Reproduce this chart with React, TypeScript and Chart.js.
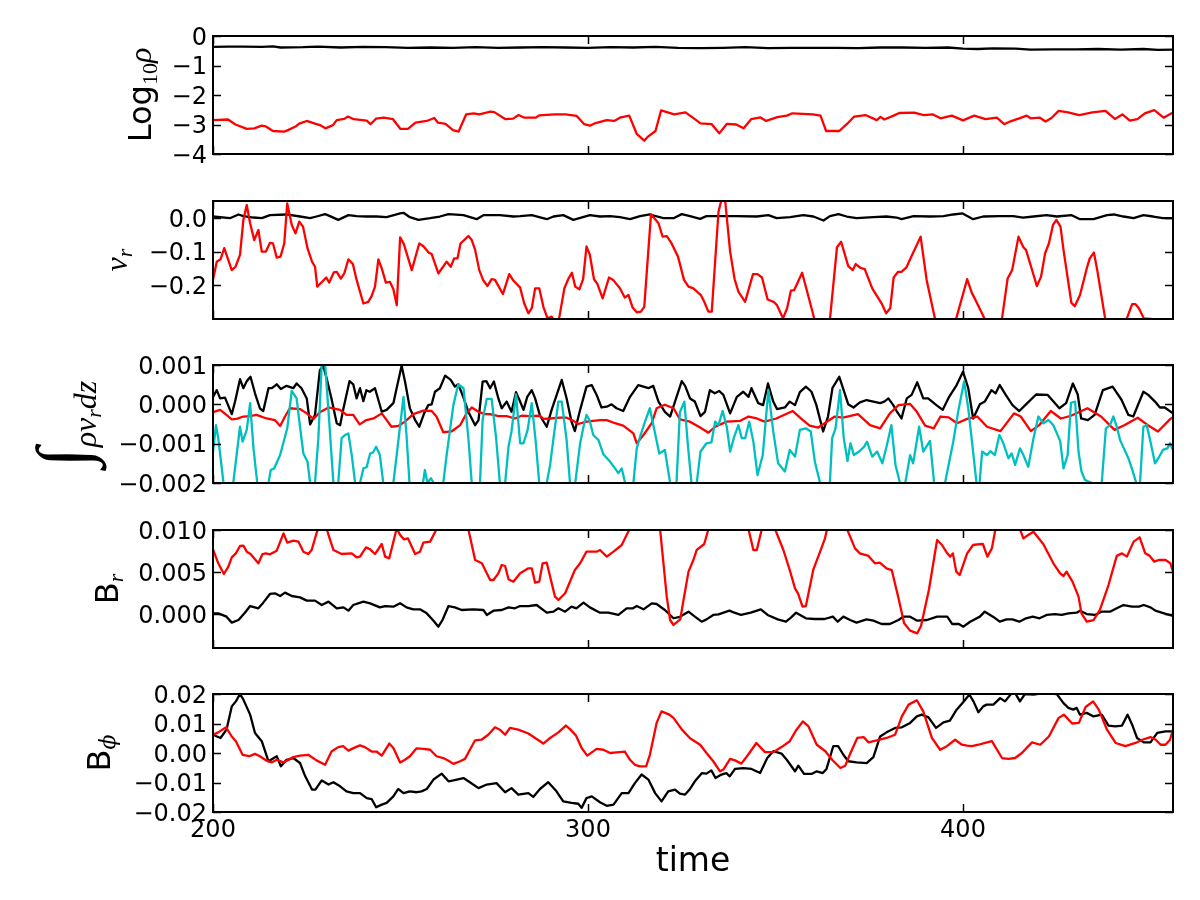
import { useEffect, useRef } from "react";
import { Chart, registerables } from "chart.js";

Chart.register(...registerables);

type Pt = [number, number];

// ---- time axis ----
const timeMin = 200;
const timeMax = 456;
const timeTicks = [200, 300, 400];
const timeTickLabels = ["200", "300", "400"];

// ---- panel 1: Log10 rho ----
const densityBlack: Pt[] = [
  [200, -0.37], [204, -0.36], [208, -0.36], [213, -0.37], [216, -0.35], [218, -0.39], [224, -0.38], [228, -0.36],
  [234, -0.39], [240, -0.37], [246, -0.38], [252, -0.40], [258, -0.39], [264, -0.40], [270, -0.38], [276, -0.40],
  [282, -0.39], [288, -0.38], [294, -0.39], [300, -0.40], [306, -0.38], [312, -0.39], [318, -0.37], [324, -0.40],
  [330, -0.41], [336, -0.40], [342, -0.38], [348, -0.41], [354, -0.40], [360, -0.40], [366, -0.40], [372, -0.41],
  [378, -0.39], [384, -0.39], [390, -0.40], [396, -0.39], [400, -0.43], [404, -0.44], [408, -0.42], [414, -0.43],
  [418, -0.46], [424, -0.45], [430, -0.45], [436, -0.44], [442, -0.46], [448, -0.44], [452, -0.47], [456, -0.46],
];
const densityRed: Pt[] = [
  [200, -2.85], [204, -2.83], [206, -3.0], [209, -3.15], [211, -3.13], [213, -3.04], [214, -3.06], [216, -3.22],
  [219, -3.24], [220, -3.19], [222, -3.07], [223, -2.97], [225, -2.88], [227, -2.96], [228.5, -3.02], [230, -3.13],
  [232, -3.02], [233, -2.85], [235, -2.81], [236, -2.73], [237.5, -2.82], [241, -2.87], [242, -2.99], [243.5, -2.80],
  [245.5, -2.77], [248, -2.82], [250, -3.15], [252, -3.15], [254, -2.94], [257, -2.88], [259, -2.78], [260, -2.94],
  [262, -2.98], [264, -3.19], [265.5, -3.24], [267.5, -2.66], [269.5, -2.62], [271, -2.66], [274, -2.56], [275, -2.58],
  [278, -2.82], [280, -2.80], [281.5, -2.68], [283, -2.77], [286, -2.77], [287, -2.69], [291, -2.66], [294, -2.66],
  [297, -2.71], [299, -2.99], [300.5, -3.04], [302, -2.95], [305, -2.85], [307, -2.88], [308.5, -2.77], [311, -2.70],
  [313, -3.32], [315, -3.55], [316, -3.41], [318, -3.22], [319.5, -2.52], [323, -2.66], [326, -2.59], [328.5, -2.82],
  [330, -2.96], [332, -2.98], [333, -2.99], [335, -3.30], [337, -2.98], [339.5, -3.0], [341.5, -3.13], [343.5, -2.82],
  [346, -2.76], [347.5, -2.88], [350.5, -2.75], [353, -2.70], [354.5, -2.62], [360, -2.66], [362, -2.70], [363.5, -3.22],
  [367, -3.22], [369, -2.99], [371, -2.73], [374, -2.68], [377, -2.85], [378, -2.74], [379, -2.83], [381.5, -2.70],
  [383, -2.61], [387, -2.60], [389.5, -2.68], [392, -2.66], [394, -2.79], [397, -2.70], [400, -2.86], [403, -2.70],
  [406, -2.82], [409, -2.77], [411, -2.99], [412.5, -2.90], [415, -2.79], [417, -2.70], [418, -2.79], [420.5, -2.77],
  [422, -2.90], [423.5, -2.79], [425.5, -2.54], [428, -2.59], [431, -2.68], [434.5, -2.59], [438, -2.54], [440.5, -2.81],
  [442.5, -2.66], [444.5, -2.87], [446.5, -2.82], [448.5, -2.62], [451, -2.51], [453.5, -2.77], [456, -2.59],
];
const densityRange = [-4, 0];
const densityTicks = [-4, -3, -2, -1, 0];
const densityTickLabels = ["\u22124", "\u22123", "\u22122", "\u22121", "0"];

// ---- panel 2: v_r ----
const velocityBlack: Pt[] = [
  [200, 0.004], [204.5, -0.001], [206.8, 0.010], [208.1, 0.005], [210.8, 0.001], [213, -0.001], [215.2, 0.008],
  [219.6, 0.010], [223.2, 0.004], [225.9, -0.001], [227.6, 0.004], [229.9, 0.011], [231.2, 0.005], [233.4, -0.006],
  [236.1, 0.008], [238.3, 0.005], [241, 0.004], [243.6, 0.004], [246.3, 0.002], [249.9, 0.013], [250.8, 0.015],
  [252.5, 0.002], [254.8, -0.006], [257.9, -0.001], [260.5, 0.004], [262.8, 0.011], [266.8, 0.008], [270.3, -0.004],
  [272.1, 0.008], [276.5, 0.008], [280.1, 0.004], [281.9, 0.005], [285, 0.008], [289, -0.004], [290.8, 0.004],
  [293.4, 0.008], [296.1, -0.006], [300.5, 0.008], [303.2, 0.004], [305.9, 0.005], [308.5, 0.002], [311.2, -0.004],
  [313.9, 0.005], [316.5, 0.010], [320.1, -0.001], [322.8, -0.001], [325, 0.011], [327.2, 0.005], [329.9, -0.003],
  [331.6, 0.005], [335.2, 0.005], [339.6, 0.005], [345, 0.004], [348.1, 0.008], [350.3, -0.001], [353.9, 0.002],
  [357.4, 0.008], [360.1, 0.004], [362.8, -0.008], [364.5, 0.005], [366.8, 0.011], [369, 0.004], [371.6, -0.001],
  [376.1, 0.002], [379.6, 0.004], [382.3, 0.001], [383.6, -0.004], [386.8, 0.005], [391.2, 0.004], [394.8, 0.005],
  [397.4, 0.010], [399.9, 0.013], [402.7, -0.004], [405.4, 0.004], [409.8, 0.005], [413.4, 0.005], [416, 0.001],
  [418.8, 0.004], [422.3, 0.008], [425, 0.004], [429, 0.008], [431.2, -0.004], [434.8, -0.004], [438.4, 0.008],
  [440.2, 0.010], [442.8, 0.004], [445.5, -0.001], [448.1, 0.008], [450.7, 0.004], [453.3, -0.001], [456, -0.001],
];
const velocityRed: Pt[] = [
  [200, -0.184], [201, -0.13], [202, -0.123], [203, -0.09], [205, -0.155], [206, -0.145], [207.2, -0.11], [208.1, -0.006],
  [209, 0.038], [209.9, -0.016], [211, -0.066], [212.1, -0.036], [213, -0.10], [214.1, -0.10], [215.2, -0.074],
  [216, -0.076], [217, -0.118], [218, -0.115], [219, -0.076], [219.8, 0.043], [221, -0.021], [222, -0.046], [223, -0.011],
  [224, -0.026], [225.2, -0.09], [226.4, -0.13], [227.2, -0.145], [227.8, -0.204], [228.7, -0.194], [230.2, -0.177],
  [231, -0.192], [232.2, -0.162], [233, -0.16], [234.1, -0.18], [235, -0.165], [236.1, -0.123], [237.3, -0.137],
  [238.3, -0.184], [240.1, -0.254], [241.4, -0.249], [242.3, -0.232], [243.2, -0.204], [244.1, -0.123], [245, -0.15],
  [246.1, -0.192], [247.2, -0.19], [248.1, -0.212], [249, -0.259], [249.9, -0.058], [250.9, -0.078], [253, -0.155],
  [255, -0.076], [256.1, -0.084], [257.5, -0.103], [258.3, -0.107], [260.1, -0.165], [262.3, -0.13], [263.4, -0.145],
  [264.3, -0.12], [265.2, -0.12], [266, -0.076], [268.1, -0.054], [269, -0.066], [269.9, -0.095], [271, -0.155],
  [272.1, -0.186], [273.2, -0.202], [274.3, -0.182], [275.2, -0.184], [277.3, -0.226], [279, -0.167], [280.1, -0.186],
  [281.9, -0.207], [283, -0.254], [284.1, -0.283], [285, -0.268], [285.9, -0.209], [287, -0.209], [288.1, -0.264],
  [289.2, -0.298], [290.3, -0.293], [291.2, -0.31], [292.3, -0.298], [293.7, -0.209], [294.8, -0.18], [295.7, -0.163],
  [296.6, -0.204], [297.7, -0.212], [298.7, -0.182], [299.6, -0.085], [300.5, -0.11], [301.6, -0.182], [302.5, -0.196],
  [303.9, -0.239], [305.6, -0.177], [306.7, -0.184], [308.5, -0.209], [309.8, -0.236], [310.8, -0.229], [311.9, -0.266],
  [313, -0.28], [314.1, -0.278], [315, -0.264], [316.8, 0.011], [318.8, -0.016], [319.9, -0.056], [321, -0.054],
  [322.2, -0.074], [324, -0.115], [325.6, -0.184], [326.8, -0.204], [328.1, -0.209], [330.1, -0.229], [331, -0.249],
  [332.1, -0.278], [333, -0.278], [334.8, 0.018], [335.7, 0.058], [336.6, 0.048], [337.9, -0.10], [339.1, -0.182],
  [340.1, -0.219], [341.9, -0.249], [344, -0.167], [345.2, -0.167], [346.4, -0.177], [347.9, -0.242], [349.5, -0.249],
  [350.4, -0.259], [352, -0.298], [353.1, -0.268], [354.1, -0.216], [355, -0.214], [357.1, -0.163], [358.8, -0.234],
  [360.6, -0.31], [362.5, -0.34], [364.5, -0.303], [366.4, -0.087], [367.5, -0.071], [369.4, -0.143], [370.6, -0.155],
  [371.4, -0.137], [372.6, -0.148], [373.8, -0.152], [375.8, -0.209], [378.4, -0.256], [379.5, -0.283], [380.6, -0.268],
  [381.5, -0.177], [382.7, -0.16], [383.6, -0.16], [384.9, -0.147], [386.3, -0.113], [388.7, -0.056], [390.3, -0.184],
  [392.5, -0.298], [395, -0.34], [398.2, -0.298], [401.1, -0.182], [402.4, -0.224], [403, -0.236], [405.7, -0.298],
  [408, -0.33], [410.4, -0.298], [411.9, -0.18], [413.1, -0.155], [414.8, -0.056], [416.1, -0.087], [416.8, -0.095],
  [419.7, -0.202], [420.8, -0.175], [421.9, -0.105], [422.9, -0.076], [424, -0.021], [424.9, -0.006], [426, -0.026],
  [426.8, -0.095], [428.9, -0.252], [429.8, -0.262], [431.2, -0.229], [433, -0.15], [433.8, -0.12], [434.9, -0.103],
  [435.8, -0.155], [437.9, -0.298], [441, -0.33], [443.7, -0.298], [445.1, -0.256], [446, -0.256], [446.9, -0.268],
  [448.2, -0.298], [450, -0.30], [453, -0.305], [456, -0.30],
];
const velocityRange = [-0.3, 0.05];
const velocityTicks = [-0.2, -0.1, 0.0];
const velocityTickLabels = ["\u22120.2", "\u22120.1", "0.0"];

// ---- panel 3: integrated mass flux ----
const fluxBlack: Pt[] = [
  [200, 0.19e-3], [201, 0.36e-3], [201.9, 0.15e-3], [203.2, 0.17e-3], [205, -0.25e-3], [205.9, 0.08e-3], [207.2, 0.64e-3],
  [208.1, 0.41e-3], [209, 0.59e-3], [210, 0.70e-3], [211.2, 0.28e-3], [212.5, -0.10e-3], [213.4, -0.17e-3], [214.8, 0.41e-3],
  [215.7, 0.41e-3], [217, 0.51e-3], [218.1, 0.39e-3], [219.6, 0.47e-3], [221.4, 0.41e-3], [222.3, 0.53e-3], [223.6, 0.41e-3],
  [225, 0.15e-3], [225.9, -0.51e-3], [227.2, -0.27e-3], [228.5, 0.87e-3], [229.4, 0.98e-3], [230.3, 0.66e-3], [231.6, 0.14e-3],
  [233, -0.48e-3], [233.9, -0.53e-3], [234.8, -0.10e-3], [236.4, 0.59e-3], [237.4, 0.51e-3], [238.3, 0.15e-3], [239.2, 0.41e-3],
  [240.1, 0.08e-3], [240.9, 0.36e-3], [241.8, 0.32e-3], [243.2, 0.41e-3], [245, -0.19e-3], [246.3, -0.14e-3], [248.1, 0.03e-3],
  [249, 0.42e-3], [250.3, 0.98e-3], [251.2, 0.58e-3], [252.5, -0.10e-3], [253.9, -0.40e-3], [255, -0.57e-3], [256.3, -0.23e-3],
  [257.4, -0.02e-3], [258.3, 0.0], [259.2, 0.32e-3], [260.5, 0.41e-3], [261.9, 0.73e-3], [263.4, 0.62e-3], [264.5, 0.45e-3],
  [265.4, 0.51e-3], [266.8, 0.17e-3], [268.1, -0.19e-3], [269.9, -0.53e-3], [270.8, -0.40e-3], [271.9, 0.58e-3],
  [272.9, 0.59e-3], [273.9, 0.41e-3], [274.9, 0.58e-3], [276.1, 0.15e-3], [277, -0.10e-3], [278.3, 0.07e-3], [279.6, -0.19e-3],
  [280.8, 0.31e-3], [281.9, 0.07e-3], [282.8, -0.14e-3], [283.8, 0.19e-3], [285, 0.36e-3], [285.9, 0.15e-3], [287.2, -0.29e-3],
  [289, -0.57e-3], [290.3, -0.14e-3], [293, 0.62e-3], [294.3, 0.15e-3], [295.6, -0.44e-3], [296.5, -0.68e-3], [297.9, -0.14e-3],
  [299.6, 0.45e-3], [301, 0.49e-3], [302.3, 0.24e-3], [303.6, -0.08e-3], [305, -0.06e-3], [306.3, 0.0], [307.6, -0.10e-3],
  [309.4, -0.17e-3], [311.2, 0.19e-3], [313.4, 0.49e-3], [314.8, 0.45e-3], [316.1, 0.41e-3], [317.4, 0.47e-3], [318.8, 0.07e-3],
  [320.5, -0.19e-3], [321.9, -0.31e-3], [323.2, 0.07e-3], [325, 0.59e-3], [325.9, 0.47e-3], [327.2, 0.15e-3], [328.5, 0.07e-3],
  [330, -0.30e-3], [331.2, -0.19e-3], [332.5, 0.36e-3], [333.8, 0.28e-3], [335, 0.34e-3], [336.1, 0.24e-3], [337.9, -0.23e-3],
  [339.7, 0.19e-3], [341.4, 0.32e-3], [342.8, 0.19e-3], [343.6, 0.41e-3], [345.4, 0.03e-3], [346.7, -0.02e-3], [348, 0.53e-3],
  [349.4, 0.07e-3], [350.4, -0.12e-3], [352.5, -0.08e-3], [353.8, 0.07e-3], [355.2, -0.02e-3], [356.5, 0.31e-3],
  [358.1, 0.45e-3], [359.6, 0.32e-3], [360.9, -0.02e-3], [362.7, -0.69e-3], [364, -0.31e-3], [365.2, 0.42e-3], [367, 0.70e-3],
  [368, 0.41e-3], [369.4, 0.0], [370.8, -0.08e-3], [372.5, 0.05e-3], [374.3, 0.11e-3], [376.1, 0.07e-3], [377.9, 0.03e-3],
  [379, 0.07e-3], [380.1, 0.15e-3], [381.4, -0.02e-3], [382.3, -0.17e-3], [383.6, -0.36e-3], [385, 0.15e-3], [386.3, 0.24e-3],
  [387.8, 0.56e-3], [389.4, 0.15e-3], [390.7, 0.15e-3], [392.9, -0.02e-3], [394.6, -0.14e-3], [396.3, 0.19e-3],
  [398.3, 0.49e-3], [400, 0.83e-3], [401.4, 0.41e-3], [402.7, -0.36e-3], [404.5, 0.0], [405.8, 0.07e-3], [407.6, 0.36e-3],
  [408.7, 0.28e-3], [409.8, 0.49e-3], [411.4, 0.24e-3], [413.2, -0.02e-3], [415, -0.17e-3], [416.8, 0.0], [419.5, 0.25e-3],
  [422.6, 0.24e-3], [425.7, -0.10e-3], [427.5, 0.03e-3], [429.3, 0.53e-3], [430.6, 0.25e-3], [431.5, -0.36e-3],
  [433.3, -0.40e-3], [435.1, -0.27e-3], [437.3, 0.36e-3], [439.9, 0.45e-3], [442.3, 0.11e-3], [444.1, -0.27e-3],
  [445.4, -0.31e-3], [448.1, 0.32e-3], [449.4, 0.24e-3], [451.2, 0.07e-3], [452.5, -0.08e-3], [453.8, -0.08e-3], [456, -0.23e-3],
];
const fluxRed: Pt[] = [
  [200, -0.20e-3], [201.9, -0.14e-3], [203.6, -0.27e-3], [205, -0.38e-3], [206.3, -0.37e-3], [208.1, -0.31e-3],
  [209.9, -0.30e-3], [211.6, -0.27e-3], [214.3, -0.36e-3], [216.5, -0.40e-3], [217.9, -0.55e-3], [219.2, -0.31e-3],
  [220.5, -0.10e-3], [223.2, -0.12e-3], [225, -0.23e-3], [226.8, -0.37e-3], [228.5, -0.20e-3], [230.8, -0.08e-3],
  [233.9, -0.14e-3], [235.6, -0.27e-3], [237.4, -0.27e-3], [239.1, -0.51e-3], [240.9, -0.40e-3], [242.8, -0.36e-3],
  [245, -0.23e-3], [247.6, -0.57e-3], [249.4, -0.55e-3], [251.2, -0.44e-3], [253.4, -0.25e-3], [256.1, -0.16e-3],
  [258.3, -0.17e-3], [259.6, -0.31e-3], [261.4, -0.71e-3], [263.6, -0.69e-3], [265.9, -0.53e-3], [267.6, -0.23e-3],
  [269, -0.08e-3], [270.8, -0.19e-3], [272.5, -0.25e-3], [273.9, -0.25e-3], [276.1, -0.30e-3], [278.3, -0.30e-3],
  [280.5, -0.36e-3], [282.3, -0.29e-3], [284.5, -0.30e-3], [287.2, -0.29e-3], [288.1, -0.37e-3], [289.9, -0.36e-3],
  [292.5, -0.34e-3], [294.3, -0.34e-3], [296.1, -0.42e-3], [297.4, -0.50e-3], [299.6, -0.44e-3], [301.4, -0.42e-3],
  [303.2, -0.40e-3], [305, -0.40e-3], [307.2, -0.48e-3], [309.4, -0.54e-3], [312.1, -0.74e-3], [313, -0.99e-3],
  [314.8, -0.78e-3], [317, -0.48e-3], [318.3, -0.10e-3], [320.5, -0.01e-3], [322.8, -0.10e-3], [324.5, -0.38e-3],
  [327.2, -0.44e-3], [329.9, -0.59e-3], [332.1, -0.72e-3], [333.9, -0.57e-3], [337, -0.44e-3], [340.6, -0.42e-3],
  [342.8, -0.31e-3], [345, -0.36e-3], [347.1, -0.44e-3], [350.2, -0.36e-3], [354.6, -0.17e-3], [357.3, -0.40e-3],
  [359.1, -0.54e-3], [361.4, -0.59e-3], [363.1, -0.48e-3], [365.8, -0.31e-3], [368, -0.34e-3], [372, -0.25e-3],
  [375.2, -0.53e-3], [377.9, -0.61e-3], [380.5, -0.23e-3], [382.8, -0.02e-3], [385.9, 0.01e-3], [387.7, -0.19e-3],
  [389.9, -0.54e-3], [392.2, -0.61e-3], [394, -0.31e-3], [396.2, -0.33e-3], [398.4, -0.48e-3], [401.1, -0.37e-3],
  [403.8, -0.31e-3], [406.4, -0.57e-3], [410, -0.68e-3], [413.6, -0.23e-3], [415.4, -0.31e-3], [418.1, -0.68e-3],
  [420.3, -0.53e-3], [423.4, -0.17e-3], [426.1, -0.36e-3], [428.8, -0.29e-3], [433.2, -0.10e-3], [436.8, -0.31e-3],
  [440.4, -0.65e-3], [443, -0.53e-3], [446.6, -0.34e-3], [449.3, -0.53e-3], [452, -0.69e-3], [455.3, -0.37e-3], [456, -0.33e-3],
];
const fluxCyan: Pt[] = [
  [200, -1.20e-3], [200.8, -0.53e-3], [201.4, -0.86e-3], [202.8, -2.0e-3], [204, -2.4e-3], [205.4, -2.0e-3], [207.2, -0.57e-3],
  [207.9, -0.95e-3], [209, -0.65e-3], [209.9, 0.03e-3], [210.8, -1.12e-3], [211.8, -2.0e-3], [213.3, -2.4e-3], [214.8, -2.0e-3],
  [215.4, -1.67e-3], [216.3, -1.63e-3], [217.9, -1.29e-3], [219.8, -0.61e-3], [221, 0.34e-3], [222.3, 0.15e-3],
  [223.2, -0.57e-3], [224.1, -1.25e-3], [225.2, -1.46e-3], [225.9, -2.0e-3], [226.5, -2.2e-3], [227.2, -2.0e-3],
  [228.1, -0.86e-3], [229, 1.05e-3], [229.9, 1.02e-3], [231, -0.44e-3], [232.1, -2.0e-3], [232.8, -2.3e-3], [233.4, -2.0e-3],
  [234.3, -0.86e-3], [235.2, -0.78e-3], [236.1, -0.74e-3], [237, -1.29e-3], [237.9, -2.0e-3], [238.5, -2.3e-3],
  [239.2, -2.0e-3], [240.1, -1.63e-3], [241, -1.59e-3], [241.9, -1.25e-3], [242.7, -1.22e-3], [243.5, -1.08e-3],
  [244.5, -1.29e-3], [245.4, -2.0e-3], [246.7, -2.4e-3], [248.1, -2.0e-3], [249.4, -0.95e-3], [250.8, 0.19e-3],
  [251.6, -0.78e-3], [252.4, -2.0e-3], [254.3, -2.5e-3], [256, -2.0e-3], [256.5, -1.67e-3], [257.2, -2.0e-3],
  [258.1, -1.88e-3], [258.9, -2.0e-3], [260, -2.4e-3], [261.4, -2.0e-3], [262.3, -1.29e-3], [264.1, -0.02e-3],
  [265.4, 0.51e-3], [266.8, 0.41e-3], [268.1, -0.86e-3], [269, -2.0e-3], [270.1, -2.4e-3], [271.2, -2.0e-3],
  [271.9, -0.40e-3], [273, 0.14e-3], [274.3, 0.14e-3], [275.5, -0.86e-3], [276.5, -2.0e-3], [277.2, -2.3e-3],
  [277.9, -2.0e-3], [278.8, -1.08e-3], [279.6, -0.69e-3], [280.8, 0.25e-3], [281.9, -0.99e-3], [282.8, -0.99e-3],
  [283.9, -0.65e-3], [285, 0.03e-3], [286.1, -0.99e-3], [287, -2.0e-3], [288, -2.4e-3], [289, -2.0e-3], [289.9, -1.54e-3],
  [290.8, -0.86e-3], [292.1, 0.07e-3], [293, 0.07e-3], [294.3, -0.91e-3], [295.2, -2.0e-3], [295.9, -2.3e-3],
  [296.6, -2.0e-3], [297.9, -0.99e-3], [298.8, -0.57e-3], [299.6, -0.27e-3], [300.4, -0.40e-3], [301.4, -0.78e-3],
  [302.8, -0.91e-3], [304.1, -1.27e-3], [305.9, -1.46e-3], [307.2, -1.63e-3], [308.1, -1.75e-3], [309, -1.63e-3],
  [309.9, -2.0e-3], [311, -2.4e-3], [312.1, -2.0e-3], [313, -1.12e-3], [313.9, -0.82e-3], [315.2, -0.44e-3],
  [316.5, -0.10e-3], [317.6, -0.61e-3], [319, -1.25e-3], [320.5, -1.16e-3], [321.9, -2.0e-3], [322.8, -2.4e-3],
  [323.6, -2.0e-3], [324.5, -0.20e-3], [325.7, 0.07e-3], [326.6, -1.0e-3], [327.6, -2.0e-3], [328.3, -2.2e-3],
  [329, -2.0e-3], [330, -1.2e-3], [331.6, -0.99e-3], [332.9, -0.97e-3], [333.9, -0.44e-3], [334.8, -0.53e-3],
  [335.9, -0.17e-3], [337, -0.57e-3], [337.9, -1.20e-3], [339, -0.82e-3], [340.1, -0.53e-3], [341, -0.86e-3],
  [341.9, -0.86e-3], [343, -0.44e-3], [344.1, -0.95e-3], [345.2, -1.80e-3], [346.6, -1.29e-3], [348.1, 0.36e-3],
  [349.4, -0.69e-3], [350.7, -1.50e-3], [352.5, -1.71e-3], [353.8, -1.16e-3], [355.2, -1.33e-3], [356.5, -0.65e-3],
  [358.1, -0.61e-3], [359.4, -0.69e-3], [360.5, -1.46e-3], [361.9, -2.0e-3], [363.2, -2.4e-3], [364.5, -2.0e-3],
  [365.1, -0.86e-3], [366, -0.61e-3], [367.2, 0.36e-3], [368.2, -0.86e-3], [369.2, -1.44e-3], [370, -0.99e-3],
  [370.9, -1.29e-3], [372.3, -1.20e-3], [373.6, -1.08e-3], [374.4, -0.95e-3], [375.8, -1.33e-3], [377.1, -1.20e-3],
  [378.5, -1.50e-3], [379.6, -1.08e-3], [380.9, -0.53e-3], [382, -1.54e-3], [383.2, -2.0e-3], [384, -2.2e-3],
  [384.6, -2.0e-3], [385.9, -1.29e-3], [386.7, -1.50e-3], [388.3, -0.57e-3], [389.4, -1.20e-3], [391.2, -0.93e-3],
  [392.3, -2.0e-3], [393.8, -2.5e-3], [395.2, -2.0e-3], [397.4, -0.95e-3], [398.8, -0.14e-3], [400.3, 0.58e-3],
  [401.4, -0.10e-3], [402.4, -0.95e-3], [403.6, -2.0e-3], [404.3, -2.15e-3], [405.1, -1.20e-3], [406.4, -1.29e-3],
  [407.3, -1.19e-3], [408.5, -1.29e-3], [409.7, -0.78e-3], [410.6, -0.95e-3], [412.1, -1.37e-3], [413, -1.25e-3],
  [413.9, -1.54e-3], [415.2, -1.12e-3], [416.1, -1.29e-3], [417.4, -1.59e-3], [418.8, -0.86e-3], [420.1, -0.31e-3],
  [421.4, -0.48e-3], [422.8, -0.40e-3], [424.1, -0.53e-3], [425.9, -0.93e-3], [426.8, -1.63e-3], [427.9, -1.29e-3],
  [428.8, 0.04e-3], [429.9, 0.07e-3], [430.8, -1.20e-3], [431.6, -1.71e-3], [432.5, -1.92e-3], [434.3, -2.0e-3],
  [435.7, -2.3e-3], [437, -2.0e-3], [438.1, -0.61e-3], [439.2, -0.53e-3], [440.1, -0.31e-3], [441, -0.57e-3],
  [441.9, -0.91e-3], [444.1, -1.37e-3], [445.3, -1.71e-3], [446.2, -2.0e-3], [446.7, -2.1e-3], [447.2, -2.0e-3],
  [448.1, -0.57e-3], [449, -0.53e-3], [449.9, -0.91e-3], [451.2, -1.50e-3], [452.1, -1.37e-3], [453.3, -1.16e-3],
  [454.5, -1.12e-3], [455.2, -0.99e-3], [456, -1.16e-3],
];
const fluxRange = [-0.002, 0.001];
const fluxTicks = [-0.002, -0.001, 0, 0.001];
const fluxTickLabels = ["\u22120.002", "\u22120.001", "0.000", "0.001"];

// ---- panel 4: B_r ----
const bRadialBlack: Pt[] = [
  [200, 0.11e-3], [201.4, 0.11e-3], [203.6, -0.28e-3], [205, -0.99e-3], [206.8, -0.68e-3], [208.5, 0.19e-3], [209.9, 0.98e-3],
  [212.1, 0.71e-3], [213.4, 1.38e-3], [215.2, 2.41e-3], [216.5, 2.49e-3], [217.9, 2.17e-3], [219.2, 2.57e-3], [221, 2.17e-3],
  [223.2, 2.01e-3], [225, 1.62e-3], [227.2, 1.62e-3], [229, 1.10e-3], [230.8, 1.50e-3], [233, 0.71e-3], [234.8, 0.82e-3],
  [236.1, 0.43e-3], [237.4, 1.10e-3], [240.1, 1.50e-3], [241.9, 1.30e-3], [244.5, 0.82e-3], [245.9, 0.98e-3],
  [248.1, 0.90e-3], [249.9, 1.30e-3], [251.6, 0.82e-3], [253.4, 0.59e-3], [255.2, 0.59e-3], [257, 0.11e-3], [258.8, -0.76e-3],
  [260.1, -1.47e-3], [261.2, -0.68e-3], [262.8, 0.98e-3], [264.5, 0.82e-3], [266.3, 0.51e-3], [269.4, 0.59e-3],
  [272.1, 0.51e-3], [273, -0.08e-3], [274.8, 0.43e-3], [277, 0.51e-3], [278.8, 0.82e-3], [280.5, 0.71e-3], [281.9, 0.98e-3],
  [284.1, 0.98e-3], [286.3, 1.10e-3], [289, 0.19e-3], [290.8, 0.31e-3], [292.1, 0.71e-3], [293.9, 0.31e-3], [295.6, 0.90e-3],
  [296.9, 0.71e-3], [298.8, 1.38e-3], [300.5, 0.82e-3], [303.2, 0.19e-3], [305.4, 0.19e-3], [308.1, -0.08e-3],
  [310.3, 0.71e-3], [312, 0.71e-3], [313, 0.98e-3], [314.8, 0.59e-3], [317, 1.30e-3], [318.3, 1.22e-3], [320.5, 0.51e-3],
  [322.8, -0.47e-3], [324.5, -0.30e-3], [326.8, 0.31e-3], [328.5, -0.28e-3], [330.3, -0.88e-3], [331.6, -0.60e-3],
  [333.4, -0.08e-3], [334.8, 0.0], [337.7, 0.43e-3], [339, 0.19e-3], [340.8, -0.08e-3], [343.4, 0.19e-3], [346.1, 0.59e-3],
  [347.9, -0.08e-3], [350.6, -0.60e-3], [352.8, -0.88e-3], [354.1, -0.40e-3], [355.5, 0.19e-3], [358.1, -0.48e-3],
  [360.4, -0.56e-3], [363.1, -0.56e-3], [365.3, -0.28e-3], [366.6, -0.88e-3], [368.1, -0.28e-3], [369.9, -0.68e-3],
  [371.6, -0.99e-3], [374.3, -0.60e-3], [376.1, -0.76e-3], [378.3, -1.15e-3], [380.5, -1.15e-3], [382.8, -0.68e-3],
  [384.1, -0.28e-3], [385.9, -0.28e-3], [387.8, -0.76e-3], [390.4, -0.68e-3], [393.1, -0.28e-3], [395.8, -0.28e-3],
  [397.1, -1.15e-3], [398.9, -1.15e-3], [400.1, -1.47e-3], [401.9, -0.88e-3], [404.5, -0.28e-3], [405.8, 0.31e-3],
  [408, -0.28e-3], [409.8, -0.88e-3], [411.6, -0.60e-3], [413.2, -0.60e-3], [415, -0.88e-3], [416.8, -0.48e-3],
  [418.6, -0.28e-3], [420.4, -0.48e-3], [422.3, -0.08e-3], [424.5, 0.03e-3], [426.3, -0.08e-3], [428.1, 0.11e-3],
  [430.3, 0.19e-3], [431.2, 0.43e-3], [433, 0.03e-3], [435.2, -0.08e-3], [436.9, 0.31e-3], [439.2, 0.31e-3], [441, 0.71e-3],
  [442.8, 1.10e-3], [445.1, 0.90e-3], [446.9, 0.90e-3], [448.2, 1.10e-3], [450, 0.82e-3], [451.3, 0.43e-3], [453.6, 0.11e-3],
  [456, -0.20e-3],
];
const bRadialRed: Pt[] = [
  [200, 7.71e-3], [201.4, 6.05e-3], [202.9, 4.78e-3], [204.1, 5.65e-3], [205, 6.76e-3], [206.1, 7.23e-3], [207.2, 8.10e-3],
  [208.1, 8.14e-3], [209, 7.43e-3], [210, 7.15e-3], [212.1, 6.05e-3], [213.2, 7.15e-3], [214.1, 7.23e-3], [215.2, 7.11e-3],
  [217, 7.55e-3], [218.8, 9.60e-3], [219.8, 8.50e-3], [221.4, 8.73e-3], [222.8, 8.62e-3], [224.1, 7.43e-3], [225.4, 7.15e-3],
  [226.3, 7.63e-3], [227.6, 9.60e-3], [228.5, 10.8e-3], [229.9, 10.8e-3], [230.8, 9.41e-3], [232.1, 7.63e-3],
  [234.3, 7.15e-3], [237, 7.23e-3], [238.3, 6.76e-3], [239.2, 6.84e-3], [240.8, 7.94e-3], [241.9, 7.71e-3], [243.2, 7.15e-3],
  [245, 8.34e-3], [245.9, 6.84e-3], [247, 6.64e-3], [249, 10.2e-3], [249.9, 9.41e-3], [250.9, 8.89e-3], [252, 9.0e-3],
  [253.9, 7.15e-3], [255.2, 7.43e-3], [256.1, 8.50e-3], [257.9, 8.62e-3], [259.6, 10.08e-3], [264, 11.5e-3],
  [268.1, 10.08e-3], [269.9, 6.44e-3], [271.7, 6.05e-3], [273.9, 4.07e-3], [274.8, 4.07e-3], [276.1, 4.86e-3],
  [277, 5.85e-3], [277.9, 5.73e-3], [278.8, 4.15e-3], [280.1, 3.87e-3], [281.9, 4.86e-3], [284.1, 5.45e-3], [285, 5.45e-3],
  [285.9, 3.75e-3], [287, 3.87e-3], [287.9, 6.05e-3], [289, 6.12e-3], [291.2, 2.09e-3], [292.1, 1.69e-3], [293.9, 2.49e-3],
  [296.5, 5.25e-3], [297.9, 6.05e-3], [299.6, 7.43e-3], [302.3, 7.43e-3], [303.2, 7.63e-3], [305, 6.84e-3], [306.8, 7.43e-3],
  [309, 8.22e-3], [310.3, 9.41e-3], [311.2, 10.2e-3], [315, 11.5e-3], [319.2, 10.2e-3], [321, 2.09e-3], [321.9, -0.68e-3],
  [322.8, -1.27e-3], [324.6, -0.60e-3], [325.4, 1.50e-3], [326.8, 5.06e-3], [328.1, 6.44e-3], [329, 7.63e-3],
  [331, 8.34e-3], [332.1, 10.08e-3], [337, 11.5e-3], [342.8, 10.08e-3], [344.1, 7.63e-3], [345, 7.63e-3], [346.3, 10.0e-3],
  [348, 10.8e-3], [349.9, 10.08e-3], [352.1, 7.63e-3], [353.8, 5.25e-3], [355.2, 3.08e-3], [356, 2.49e-3], [357.2, 0.90e-3],
  [358.1, 0.98e-3], [360.1, 5.33e-3], [361.9, 7.43e-3], [363.2, 9.01e-3], [363.7, 10.0e-3], [366, 11.3e-3],
  [369.1, 10.08e-3], [371.2, 7.82e-3], [372.5, 7.23e-3], [374.8, 6.93e-3], [376.5, 6.05e-3], [377.8, 6.12e-3],
  [379.6, 5.45e-3], [381, 5.25e-3], [382.8, 1.89e-3], [384.3, -1.07e-3], [385.9, -1.94e-3], [387.8, -2.26e-3],
  [388.8, -1.39e-3], [390.9, 2.88e-3], [393.1, 8.81e-3], [394.4, 8.22e-3], [395.8, 7.23e-3], [396.6, 6.84e-3],
  [397.3, 7.23e-3], [398.2, 5.06e-3], [399.1, 4.66e-3], [401.1, 7.23e-3], [402.7, 8.22e-3], [403.8, 8.30e-3],
  [405.3, 8.34e-3], [406.5, 6.84e-3], [407.7, 7.82e-3], [408.6, 10.0e-3], [412, 11.2e-3], [415.2, 10.08e-3],
  [416.1, 9.01e-3], [417.4, 9.41e-3], [418.8, 9.80e-3], [421.4, 8.34e-3], [424.1, 6.05e-3], [425.9, 4.86e-3],
  [426.8, 4.54e-3], [427.6, 5.06e-3], [429.2, 3.87e-3], [430.8, 2.09e-3], [431.6, 0.11e-3], [433, -0.88e-3],
  [434.8, -0.68e-3], [436.5, 0.51e-3], [438.8, 3.47e-3], [441, 6.93e-3], [442.4, 7.23e-3], [443.7, 6.84e-3],
  [445.5, 8.62e-3], [447.1, 9.13e-3], [448.6, 7.23e-3], [449.8, 6.93e-3], [451, 6.24e-3], [452.2, 6.44e-3], [454, 6.44e-3],
  [455.3, 6.05e-3], [456, 5.06e-3],
];
const bRadialRange = [-0.004, 0.010];
const bRadialTicks = [0, 0.005, 0.010];
const bRadialTickLabels = ["0.000", "0.005", "0.010"];

// ---- panel 5: B_phi ----
const bAzimuthalBlack: Pt[] = [
  [200, 0.62e-2], [202, 0.51e-2], [203.6, 0.79e-2], [205, 1.58e-2], [206.1, 1.75e-2], [207.2, 2.0e-2], [208.1, 1.81e-2],
  [209.9, 1.30e-2], [211.2, 0.68e-2], [213, 0.40e-2], [214.8, -0.28e-2], [217, -0.11e-2], [218.1, -0.45e-2],
  [219.6, -0.23e-2], [221.4, -0.17e-2], [223.2, -0.34e-2], [224.6, -0.79e-2], [226.4, -1.24e-2], [227.3, -1.24e-2],
  [229, -0.93e-2], [230.8, -1.07e-2], [232.1, -0.99e-2], [233.9, -1.13e-2], [235.6, -1.30e-2], [237.4, -1.36e-2],
  [239.2, -1.36e-2], [241, -1.53e-2], [242.3, -1.56e-2], [243.5, -1.84e-2], [245, -1.75e-2], [246.3, -1.69e-2],
  [248.1, -1.47e-2], [249.4, -1.22e-2], [250.8, -1.36e-2], [252.5, -1.30e-2], [254.3, -1.33e-2], [255.6, -1.30e-2],
  [257, -1.22e-2], [258.8, -0.90e-2], [261, -0.70e-2], [262.8, -0.96e-2], [264.1, -0.93e-2], [266.8, -0.85e-2],
  [268.5, -0.99e-2], [270.8, -1.19e-2], [273, -1.07e-2], [275.6, -1.02e-2], [277.9, -1.33e-2], [279.6, -1.19e-2],
  [281.4, -1.41e-2], [284.1, -1.36e-2], [285.4, -1.49e-2], [287.2, -1.22e-2], [289.4, -0.99e-2], [291.6, -1.30e-2],
  [293.4, -1.64e-2], [295.6, -1.69e-2], [297.4, -1.72e-2], [298.3, -1.86e-2], [299.6, -1.53e-2], [301, -1.47e-2],
  [303.2, -1.67e-2], [305, -1.79e-2], [306.8, -1.75e-2], [309, -1.36e-2], [310.8, -1.36e-2], [312.5, -1.02e-2],
  [314.3, -0.73e-2], [316.1, -0.90e-2], [317.9, -1.36e-2], [319.6, -1.64e-2], [321.4, -1.30e-2], [323.2, -1.24e-2],
  [324.5, -1.38e-2], [325.9, -1.41e-2], [327.2, -1.22e-2], [328.5, -0.96e-2], [330.4, -0.68e-2], [331.6, -0.70e-2],
  [332.9, -0.59e-2], [334, -0.85e-2], [335.6, -0.73e-2], [336.9, -0.68e-2], [337.8, -0.79e-2], [339.2, -0.54e-2],
  [341.4, -0.51e-2], [343.6, -0.54e-2], [345.9, -0.68e-2], [347.8, -0.17e-2], [349.4, 0.06e-2], [351.6, -0.02e-2],
  [353, -0.23e-2], [355.2, -0.62e-2], [356.1, -0.43e-2], [357.6, -0.71e-2], [359.6, -0.71e-2], [361, -0.62e-2],
  [362.6, -0.68e-2], [363.6, -0.54e-2], [365.4, 0.23e-2], [366.7, 0.23e-2], [368.1, -0.06e-2], [369.4, -0.28e-2],
  [371.6, -0.32e-2], [374.3, -0.34e-2], [376.1, -0.14e-2], [377.9, 0.56e-2], [379.6, 0.70e-2], [381.9, 0.85e-2],
  [383.7, 0.87e-2], [385.9, 1.02e-2], [387.7, 1.24e-2], [389, 1.30e-2], [390.8, 1.21e-2], [392.8, 0.85e-2],
  [394.8, 1.04e-2], [396.5, 1.10e-2], [398.3, 1.47e-2], [400.1, 1.73e-2], [401.7, 1.98e-2], [402.8, 1.75e-2],
  [404.1, 1.38e-2], [405.4, 1.58e-2], [406.3, 1.64e-2], [408.1, 1.64e-2], [409.9, 1.86e-2], [411.2, 1.75e-2],
  [413, 2.03e-2], [413.9, 2.03e-2], [415.2, 1.75e-2], [416.5, 2.0e-2], [418.8, 1.98e-2], [421.4, 2.03e-2], [425, 2.0e-2],
  [426.8, 1.69e-2], [428.1, 1.53e-2], [429.4, 1.47e-2], [430.3, 1.53e-2], [431.2, 1.30e-2], [433, 1.36e-2],
  [434.8, 1.24e-2], [437, 1.30e-2], [438.8, 0.93e-2], [440.6, 0.90e-2], [442.4, 0.93e-2], [443.9, 1.30e-2],
  [445.1, 0.96e-2], [446.4, 0.51e-2], [448.2, 0.36e-2], [450, 0.36e-2], [451.8, 0.68e-2], [454, 0.73e-2], [456, 0.73e-2],
];
const bAzimuthalRed: Pt[] = [
  [200, 0.62e-2], [201.4, 0.70e-2], [203.5, 0.87e-2], [205, 0.56e-2], [206.1, 0.40e-2], [207.9, -0.06e-2], [209.7, -0.11e-2],
  [211.2, -0.03e-2], [212.5, -0.11e-2], [214.3, -0.26e-2], [215.6, -0.32e-2], [217, -0.23e-2], [218.8, -0.32e-2],
  [221.4, -0.14e-2], [223.2, -0.09e-2], [225.4, -0.06e-2], [227.6, -0.25e-2], [229.9, -0.40e-2], [231.6, 0.05e-2],
  [233.4, 0.20e-2], [234.7, 0.23e-2], [236.1, 0.08e-2], [237.9, 0.19e-2], [239.2, 0.26e-2], [240.5, 0.20e-2],
  [242.3, 0.05e-2], [243.6, 0.05e-2], [245, -0.09e-2], [247, 0.32e-2], [248.1, 0.17e-2], [249.9, -0.32e-2],
  [251.2, -0.23e-2], [252.5, -0.11e-2], [254.3, 0.16e-2], [256.1, 0.14e-2], [257.9, 0.11e-2], [259.6, -0.11e-2],
  [261.4, -0.17e-2], [262.8, -0.26e-2], [264.1, -0.37e-2], [265.9, -0.28e-2], [267.2, -0.20e-2], [268.5, 0.11e-2],
  [269.9, 0.43e-2], [271.6, 0.45e-2], [273.4, 0.62e-2], [275.2, 0.87e-2], [276.5, 0.79e-2], [277.9, 0.62e-2],
  [279.2, 0.85e-2], [281.4, 0.79e-2], [284.1, 0.66e-2], [285.9, 0.51e-2], [288.1, 0.32e-2], [289.9, 0.51e-2],
  [292.1, 0.70e-2], [294.1, 0.93e-2], [295.2, 0.81e-2], [296.8, 0.59e-2], [298.3, 0.17e-2], [299.8, -0.09e-2],
  [302.3, 0.14e-2], [304.1, 0.11e-2], [305.9, 0.0], [307.6, 0.02e-2], [309.8, 0.05e-2], [311.2, -0.23e-2],
  [312.5, -0.40e-2], [313.9, -0.45e-2], [315.5, -0.45e-2], [316.5, -0.06e-2], [318.3, 1.02e-2], [319.6, 1.41e-2],
  [321.7, 1.30e-2], [322.8, 1.19e-2], [325, 0.80e-2], [327.2, 0.50e-2], [329.9, 0.28e-2], [331.6, 0.0], [333.4, -0.28e-2],
  [335.2, -0.62e-2], [336.1, -0.56e-2], [337.9, -0.20e-2], [339.2, -0.25e-2], [340.9, -0.36e-2], [342.7, -0.06e-2],
  [344.9, 0.34e-2], [347.2, 0.03e-2], [349.4, 0.03e-2], [351.6, 0.20e-2], [353.8, 0.40e-2], [355.6, 0.79e-2],
  [357.3, 1.07e-2], [358.8, 0.90e-2], [361, 0.28e-2], [363.3, 0.06e-2], [365.1, -0.23e-2], [367.3, -0.51e-2],
  [368.6, -0.43e-2], [370, 0.0], [371.8, 0.51e-2], [373.5, 0.54e-2], [374.8, 0.36e-2], [377, 0.43e-2], [379.6, 0.51e-2],
  [381.9, 0.62e-2], [383.7, 1.24e-2], [385.5, 1.64e-2], [387.7, 1.79e-2], [389.4, 1.41e-2], [391.7, 0.51e-2],
  [393.9, 0.11e-2], [395.7, 0.23e-2], [397.9, 0.45e-2], [399.7, 0.28e-2], [401.1, 0.25e-2], [402.4, 0.23e-2],
  [404.1, 0.28e-2], [405.9, 0.34e-2], [407.7, 0.40e-2], [410.4, -0.17e-2], [412.1, -0.20e-2], [413.9, -0.17e-2],
  [415.7, 0.0], [418.4, 0.36e-2], [420.6, 0.28e-2], [422.9, 0.56e-2], [425.5, 1.19e-2], [426.9, 1.30e-2], [429.1, 1.0e-2],
  [430.9, 1.02e-2], [432.7, 1.56e-2], [434.7, 1.75e-2], [436.2, 1.47e-2], [438.4, 0.79e-2], [440.7, 0.34e-2],
  [443.3, 0.23e-2], [446, 0.34e-2], [447.8, 0.45e-2], [450, 0.54e-2], [451.4, 0.45e-2], [452.7, 0.28e-2], [454, 0.28e-2],
  [455.2, 0.45e-2], [456, 0.79e-2],
];
const bAzimuthalRange = [-0.02, 0.02];
const bAzimuthalTicks = [-0.02, -0.01, 0, 0.01, 0.02];
const bAzimuthalTickLabels = ["\u22120.02", "\u22120.01", "0.00", "0.01", "0.02"];

// ---- styling / layout ----
const BLACK = "#000000";
const RED = "#ff0000";
const CYAN = "#00bfbf";
const W = 1200;
const H = 900;
const PLOT_LEFT = 213;
const PLOT_RIGHT = 1173;
const PANEL_HEIGHT = 118;
const LINE_WIDTH = 2.3;
const TICK_FONT = '24px "DejaVu Sans"';
const SANS = '"DejaVu Sans"';
const SERIF = '"Liberation Serif"';

type Run = { text: string; font?: string; shift?: number; family?: string; box?: [number, number] };

type PanelSpec = {
  top: number;
  range: number[];
  ticks: number[];
  tickLabels: string[];
  series: { pts: Pt[]; color: string; order: number }[];
  label: Run[];
  labelBaseX: number;
  showTime: boolean;
};

const panels: PanelSpec[] = [
  {
    top: 36,
    range: densityRange,
    ticks: densityTicks,
    tickLabels: densityTickLabels,
    series: [
      { pts: densityBlack, color: BLACK, order: 3 },
      { pts: densityRed, color: RED, order: 2 },
    ],
    label: [
      { text: "Log", font: `32px ${SANS}` },
      { text: "10", font: `22px ${SERIF}`, shift: 6 },
      { text: "\u03c1", font: `italic 32px ${SERIF}` },
    ],
    labelBaseX: 151,
    showTime: false,
  },
  {
    top: 201,
    range: velocityRange,
    ticks: velocityTicks,
    tickLabels: velocityTickLabels,
    series: [
      { pts: velocityBlack, color: BLACK, order: 3 },
      { pts: velocityRed, color: RED, order: 2 },
    ],
    label: [
      { text: "v", font: `italic 32px ${SERIF}` },
      { text: "r", font: `italic 22px ${SERIF}`, shift: 5 },
    ],
    labelBaseX: 127,
    showTime: false,
  },
  {
    top: 365,
    range: fluxRange,
    ticks: fluxTicks,
    tickLabels: fluxTickLabels,
    series: [
      { pts: fluxBlack, color: BLACK, order: 3 },
      { pts: fluxRed, color: RED, order: 2 },
      { pts: fluxCyan, color: CYAN, order: 1 },
    ],
    label: [
      { text: "\u222b", family: SERIF, box: [-61, 11] },
      { text: "\u03c1", font: `italic 32px ${SERIF}` },
      { text: "v", font: `italic 32px ${SERIF}` },
      { text: "r", font: `italic 22px ${SERIF}`, shift: 5 },
      { text: "dz", font: `italic 32px ${SERIF}` },
    ],
    labelBaseX: 96,
    showTime: false,
  },
  {
    top: 530,
    range: bRadialRange,
    ticks: bRadialTicks,
    tickLabels: bRadialTickLabels,
    series: [
      { pts: bRadialBlack, color: BLACK, order: 3 },
      { pts: bRadialRed, color: RED, order: 2 },
    ],
    label: [
      { text: "B", font: `32px ${SANS}` },
      { text: "r", font: `italic 22px ${SERIF}`, shift: 5 },
    ],
    labelBaseX: 118,
    showTime: false,
  },
  {
    top: 694,
    range: bAzimuthalRange,
    ticks: bAzimuthalTicks,
    tickLabels: bAzimuthalTickLabels,
    series: [
      { pts: bAzimuthalBlack, color: BLACK, order: 3 },
      { pts: bAzimuthalRed, color: RED, order: 2 },
    ],
    label: [
      { text: "B", font: `32px ${SANS}` },
      { text: "\u03d5", font: `italic 22px "DejaVu Serif"`, shift: 5 },
    ],
    labelBaseX: 110,
    showTime: true,
  },
];

// Rotated (bottom-to-top) axis label built from runs of differently styled text.
function drawVerticalLabel(ctx: CanvasRenderingContext2D, runs: Run[], baseX: number, centerY: number) {
  const fitted = runs.map((r) => {
    if (!r.box) return r;
    ctx.font = `100px ${r.family}`;
    const m = ctx.measureText(r.text);
    const h = m.actualBoundingBoxAscent + m.actualBoundingBoxDescent;
    const size = (100 * (r.box[1] - r.box[0])) / h;
    const asc = (m.actualBoundingBoxAscent * size) / 100;
    return { ...r, font: `${size}px ${r.family}`, shift: r.box[0] + asc };
  });
  const widths = fitted.map((r) => {
    ctx.font = r.font as string;
    return ctx.measureText(r.text).width;
  });
  const total = widths.reduce((a, b) => a + b, 0);
  ctx.save();
  ctx.translate(baseX, centerY);
  ctx.rotate(-Math.PI / 2);
  ctx.textAlign = "left";
  ctx.textBaseline = "alphabetic";
  ctx.fillStyle = BLACK;
  let pos = -total / 2;
  fitted.forEach((r, i) => {
    ctx.font = r.font as string;
    ctx.fillText(r.text, pos, r.shift ?? 0);
    pos += widths[i];
  });
  ctx.restore();
}

function makeDecor(spec: PanelSpec) {
  return {
    id: "panelDecor",
    afterDraw(chart: any) {
      const { ctx, chartArea: a, scales } = chart;
      const xs = scales.x;
      const ys = scales.y;
      ctx.save();
      // inward ticks on all four sides
      ctx.strokeStyle = BLACK;
      ctx.lineWidth = 1.5;
      ctx.beginPath();
      for (const t of timeTicks) {
        const px = Math.round(xs.getPixelForValue(t)) + 0.5;
        ctx.moveTo(px, a.bottom);
        ctx.lineTo(px, a.bottom - 8);
        ctx.moveTo(px, a.top);
        ctx.lineTo(px, a.top + 8);
      }
      for (const v of spec.ticks) {
        const py = Math.round(ys.getPixelForValue(v)) + 0.5;
        ctx.moveTo(a.left, py);
        ctx.lineTo(a.left + 8, py);
        ctx.moveTo(a.right, py);
        ctx.lineTo(a.right - 8, py);
      }
      ctx.stroke();
      // frame
      ctx.lineWidth = 2;
      ctx.strokeRect(a.left, a.top, a.right - a.left, a.bottom - a.top);
      // y tick labels
      ctx.fillStyle = BLACK;
      ctx.font = TICK_FONT;
      ctx.textAlign = "right";
      ctx.textBaseline = "alphabetic";
      spec.ticks.forEach((v, i) => {
        ctx.fillText(spec.tickLabels[i], a.left - 6, ys.getPixelForValue(v) + 8.7);
      });
      // time axis labels
      if (spec.showTime) {
        ctx.textAlign = "center";
        timeTicks.forEach((t, i) => {
          ctx.fillText(timeTickLabels[i], xs.getPixelForValue(t), a.bottom + 25);
        });
        ctx.font = `33px ${SANS}`;
        ctx.fillText("time", (a.left + a.right) / 2, a.bottom + 59);
      }
      drawVerticalLabel(ctx, spec.label, spec.labelBaseX, (a.top + a.bottom) / 2);
      ctx.restore();
    },
  };
}

function Panel({ spec }: { spec: PanelSpec }) {
  const ref = useRef<HTMLCanvasElement>(null);
  useEffect(() => {
    const canvas = ref.current;
    if (!canvas) return;
    const chart = new Chart(canvas, {
      type: "line",
      data: {
        datasets: spec.series.map((s) => ({
          data: s.pts.map(([t, v]) => ({ x: t, y: v })),
          borderColor: s.color,
          backgroundColor: s.color,
          borderWidth: LINE_WIDTH,
          pointRadius: 0,
          tension: 0,
          fill: false,
          order: s.order,
          borderJoinStyle: "round" as const,
        })),
      },
      options: {
        animation: false,
        responsive: false,
        devicePixelRatio: 1,
        events: [],
        layout: {
          padding: {
            left: PLOT_LEFT,
            right: W - PLOT_RIGHT,
            top: spec.top,
            bottom: H - (spec.top + PANEL_HEIGHT),
          },
        },
        scales: {
          x: { type: "linear", min: timeMin, max: timeMax, display: false },
          y: { type: "linear", min: spec.range[0], max: spec.range[1], display: false },
        },
        plugins: { legend: { display: false }, tooltip: { enabled: false } },
      },
      plugins: [makeDecor(spec)],
    });
    return () => chart.destroy();
  }, [spec]);
  return (
    <canvas
      ref={ref}
      width={W}
      height={H}
      style={{ position: "absolute", left: 0, top: 0, width: W, height: H }}
    />
  );
}

export default function App() {
  return (
    <div style={{ position: "fixed", left: 0, top: 0, width: W, height: H, background: "#ffffff" }}>
      {panels.map((p, i) => (
        <Panel key={i} spec={p} />
      ))}
    </div>
  );
}
